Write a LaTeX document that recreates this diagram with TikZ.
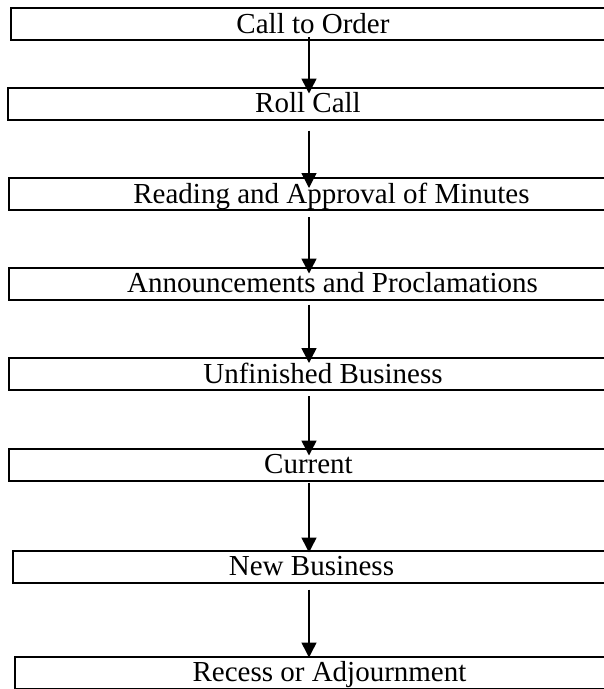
\documentclass[tikz,border=0pt]{standalone}
\usepackage{fontspec}
\setmainfont{Liberation Serif}
\usetikzlibrary{calc}
\usetikzlibrary{arrows.meta}

\begin{document}
\begin{tikzpicture}[x=1pt,y=-1pt,>={Triangle[length=15pt,width=15pt]},
  stepbox/.style={draw, line width=2pt, rectangle, inner sep=0pt, outer sep=0pt,
    minimum height=32pt, text height=18pt, text depth=0pt,
    font=\fontsize{29}{30}\selectfont}]
  % 枠 (右端は画面の外)
  \useasboundingbox (0,0) rectangle (604,689);
  \clip (0,0) rectangle (604,689);

  % 矢印の軸
  \coordinate (spine) at (309,0);

  % 各段
  \node[stepbox, minimum width=604pt] (call) at (313,24) {Call to Order};
  \node[stepbox, minimum width=600pt] (roll) at (308,103.5) {Roll Call};
  \node[stepbox, minimum width=645pt] (minutes) at (331.5,194) {Reading and Approval of Minutes};
  \node[stepbox, minimum width=647pt] (announce) at (332.5,283.5) {Announcements and Proclamations};
  \node[stepbox, minimum width=628pt] (unfinished) at (323,374) {Unfinished Business};
  \node[stepbox, minimum width=599pt] (current) at (308.5,464.5) {Current};
  \node[stepbox, minimum width=597pt] (newbiz) at (311.5,566.5) {New Business};
  \node[stepbox, minimum width=629pt] (recess) at (329.5,672.5) {Recess or Adjournment};

  % 矢印 (始点のずれ / 先端のずれ)
  \foreach \a/\b/\s/\e in {call/roll/-3/6, roll/minutes/11/10, minutes/announce/7/6,
      announce/unfinished/5/5, unfinished/current/6/7, current/newbiz/2/2,
      newbiz/recess/7/1} {
    \draw[->, line width=1.5pt] ($(\a.south -| spine)+(0,\s)$) -- ($(\b.north -| spine)+(0,\e)$);
  }
\end{tikzpicture}
\end{document}
